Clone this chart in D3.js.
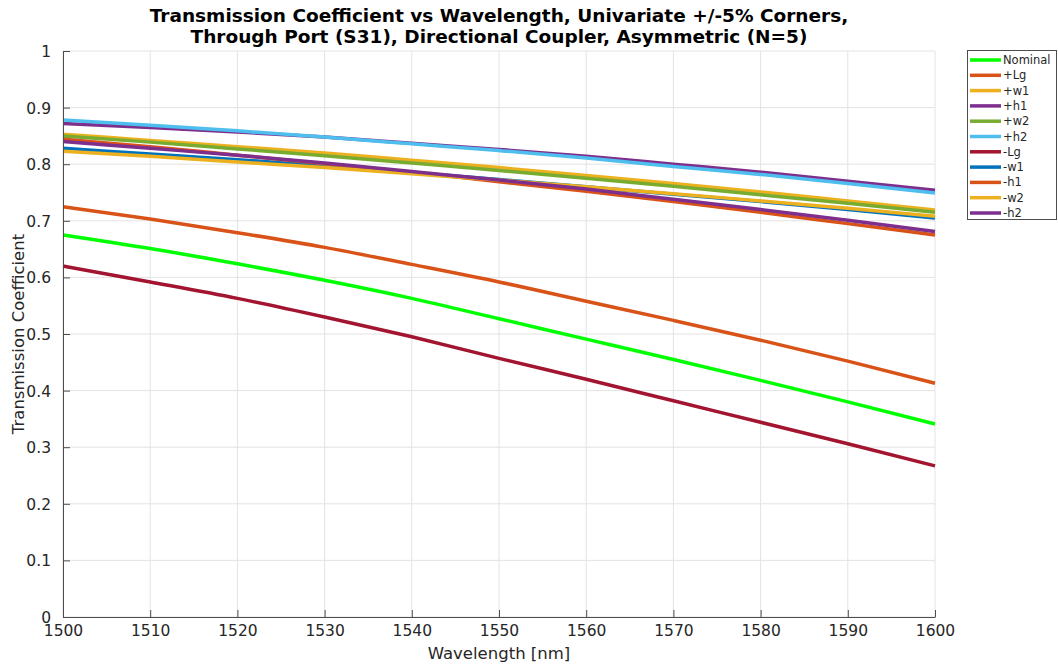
<!DOCTYPE html>
<html>
<head>
<meta charset="utf-8">
<script src="https://cdn.jsdelivr.net/npm/d3@7"></script>
<style>
  html, body { margin: 0; padding: 0; background: #fff; }
  svg { display: block; font-family: "DejaVu Sans", sans-serif; }
</style>
</head>
<body>
<svg id="chart" width="1058" height="667"></svg>
<script>
// Wavelength samples (nm)
const wavelengths = [1500, 1510, 1520, 1530, 1540, 1550, 1560, 1570, 1580, 1590, 1600];

// Transmission coefficient per corner case
const nominal = [0.675, 0.651, 0.624, 0.595, 0.563, 0.527, 0.491, 0.455, 0.418, 0.380, 0.341];
const plusLg  = [0.725, 0.703, 0.679, 0.653, 0.623, 0.592, 0.558, 0.524, 0.489, 0.452, 0.413];
const plusW1  = [0.853, 0.842, 0.831, 0.820, 0.807, 0.794, 0.780, 0.766, 0.751, 0.735, 0.719];
const plusH1  = [0.872, 0.865, 0.857, 0.848, 0.837, 0.826, 0.814, 0.800, 0.786, 0.770, 0.754];
const plusW2  = [0.850, 0.839, 0.827, 0.815, 0.802, 0.789, 0.775, 0.761, 0.746, 0.731, 0.715];
const plusH2  = [0.878, 0.869, 0.859, 0.848, 0.836, 0.824, 0.811, 0.796, 0.782, 0.766, 0.749];
const minusLg = [0.620, 0.592, 0.563, 0.530, 0.495, 0.457, 0.420, 0.382, 0.344, 0.306, 0.267];
const minusW1 = [0.828, 0.818, 0.808, 0.797, 0.785, 0.773, 0.760, 0.747, 0.734, 0.720, 0.705];
const minusH1 = [0.844, 0.831, 0.816, 0.801, 0.786, 0.769, 0.752, 0.734, 0.715, 0.695, 0.675];
const minusW2 = [0.823, 0.814, 0.804, 0.794, 0.783, 0.772, 0.760, 0.748, 0.735, 0.722, 0.708];
const minusH2 = [0.840, 0.828, 0.816, 0.802, 0.787, 0.772, 0.756, 0.738, 0.720, 0.701, 0.681];

const seriesNames  = ["Nominal", "+Lg", "+w1", "+h1", "+w2", "+h2", "-Lg", "-w1", "-h1", "-w2", "-h2"];
const seriesValues = [nominal, plusLg, plusW1, plusH1, plusW2, plusH2, minusLg, minusW1, minusH1, minusW2, minusH2];
const seriesColors = ["#00ff00", "#d95319", "#edb120", "#7e2f8e", "#77ac30", "#4dbeee",
                      "#a2142f", "#0072bd", "#d95319", "#edb120", "#7e2f8e"];

const xTicks = [1500, 1510, 1520, 1530, 1540, 1550, 1560, 1570, 1580, 1590, 1600];
const yTicks = [0, 0.1, 0.2, 0.3, 0.4, 0.5, 0.6, 0.7, 0.8, 0.9, 1];

const titleLines = [
  "Transmission Coefficient vs Wavelength, Univariate +/-5% Corners,",
  "Through Port (S31), Directional Coupler, Asymmetric (N=5)"
];

const svg = d3.select("#chart");
const plot = { left: 63, right: 935, top: 51, bottom: 617 };

const x = d3.scaleLinear().domain([1500, 1600]).range([plot.left, plot.right]);
const y = d3.scaleLinear().domain([0, 1]).range([plot.bottom, plot.top]);

const axisColor = "#4d4d4d";
const textColor = "#262626";

// Grid
const grid = svg.append("g");
grid.selectAll("line.gx").data(xTicks).join("line")
  .attr("x1", d => x(d)).attr("x2", d => x(d))
  .attr("y1", plot.top).attr("y2", plot.bottom)
  .attr("stroke", "#e3e3e3").attr("stroke-width", 1);
grid.selectAll("line.gy").data(yTicks).join("line")
  .attr("x1", plot.left).attr("x2", plot.right)
  .attr("y1", d => y(d)).attr("y2", d => y(d))
  .attr("stroke", "#e3e3e3").attr("stroke-width", 1);

// Data lines
const line = d3.line()
  .x((d, i) => x(wavelengths[i]))
  .y(d => y(d))
  .curve(d3.curveMonotoneX);

svg.append("g").selectAll("path")
  .data(seriesValues)
  .join("path")
  .attr("d", d => line(d))
  .attr("fill", "none")
  .attr("stroke", (d, i) => seriesColors[i])
  .attr("stroke-width", 3.5)
  .attr("stroke-linejoin", "round");

// Axes
const xAxis = d3.axisBottom(x).tickValues(xTicks).tickFormat(d3.format("d"))
  .tickSizeInner(-7).tickSizeOuter(0).tickPadding(10);
const yAxis = d3.axisLeft(y).tickValues(yTicks).tickFormat(d => d === 0 || d === 1 ? d3.format("d")(d) : d3.format(".1f")(d))
  .tickSizeInner(-7).tickSizeOuter(0).tickPadding(12);

const gx = svg.append("g").attr("transform", `translate(0,${plot.bottom})`).call(xAxis);
const gy = svg.append("g").attr("transform", `translate(${plot.left},0)`).call(yAxis);
[gx, gy].forEach(g => {
  g.select(".domain").attr("stroke", axisColor).attr("stroke-width", 1);
  g.selectAll(".tick line").attr("stroke", axisColor);
  g.selectAll(".tick text").attr("fill", textColor)
    .style("font-family", "DejaVu Sans, sans-serif").style("font-size", "15.5px");
});
gx.selectAll(".tick text").attr("dy", "0.6em");
gy.selectAll(".tick text").attr("dy", "0.35em");

// Axis labels
svg.append("text")
  .attr("x", (plot.left + plot.right) / 2).attr("y", 659)
  .attr("text-anchor", "middle").attr("fill", textColor)
  .style("font-size", "16.5px")
  .text("Wavelength [nm]");
svg.append("text")
  .attr("transform", `translate(24,${(plot.top + plot.bottom) / 2}) rotate(-90)`)
  .attr("text-anchor", "middle").attr("fill", textColor)
  .style("font-size", "16.5px")
  .text("Transmission Coefficient");

// Title
svg.append("g").selectAll("text")
  .data(titleLines)
  .join("text")
  .attr("x", (plot.left + plot.right) / 2)
  .attr("y", (d, i) => 22 + i * 21)
  .attr("text-anchor", "middle").attr("fill", "#000")
  .style("font-size", "18.5px").style("font-weight", "bold")
  .text(d => d);

// Legend
const legend = svg.append("g").attr("transform", "translate(967,50)");
legend.append("rect")
  .attr("x", 0.5).attr("y", 0.5).attr("width", 89).attr("height", 169)
  .attr("fill", "#fff").attr("stroke", axisColor).attr("stroke-width", 1);
const rows = legend.selectAll("g.row").data(seriesNames).join("g")
  .attr("transform", (d, i) => `translate(0,${10 + i * 15.3})`);
rows.append("line")
  .attr("x1", 3).attr("x2", 34).attr("y1", 0).attr("y2", 0)
  .attr("stroke", (d, i) => seriesColors[i]).attr("stroke-width", 3.5);
rows.append("text")
  .attr("x", 36).attr("y", 0).attr("dy", "0.35em")
  .attr("fill", textColor).style("font-size", "11.5px")
  .text(d => d);
</script>
</body>
</html>
